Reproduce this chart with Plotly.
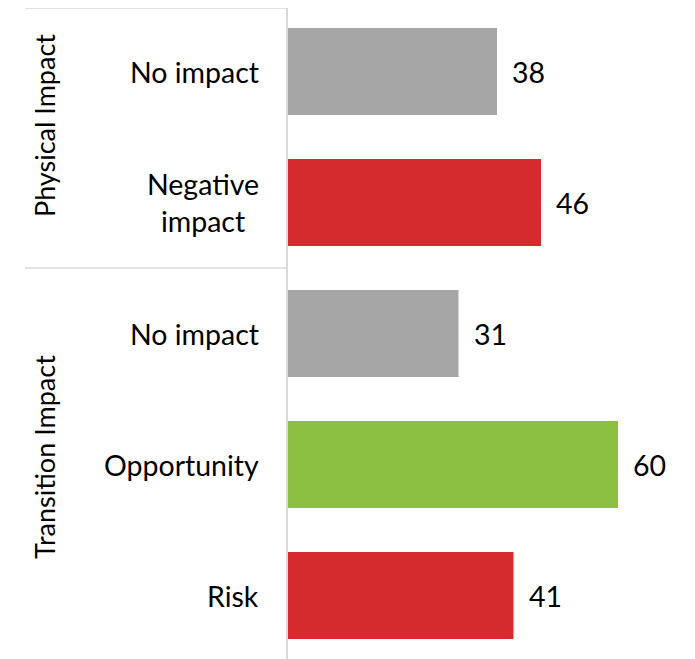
import plotly.graph_objects as go

categories = ["No impact", "Negative<br>impact", "No impact", "Opportunity", "Risk"]
values = [38, 46, 31, 60, 41]
colors = ["#A5A5A5", "#D52B2E", "#A5A5A5", "#8CC043", "#D52B2E"]
groups = ["Physical Impact", "Transition Impact"]
group_centers = [0.416, 2.943]
group_bounds = [1.5]

FONT = "Lato"
FS = 28.5
positions = list(range(len(values)))

fig = go.Figure()
fig.add_trace(go.Bar(
    x=values, y=positions, orientation="h",
    marker=dict(color=colors, line=dict(width=0)),
    width=0.665, hoverinfo="skip",
))

annotations = []
for p, c in zip(positions, categories):
    annotations.append(dict(x=0, xref="paper", y=p, yref="y", text=c, showarrow=False,
                            xanchor="right", yanchor="middle", align="center", xshift=-27,
                            font=dict(family=FONT, size=FS, color="#000000")))
for p, v in zip(positions, values):
    annotations.append(dict(x=v, xref="x", y=p, yref="y", text=str(v), showarrow=False,
                            xanchor="left", yanchor="middle", xshift=13,
                            font=dict(family=FONT, size=FS, color="#000000")))
for g, yc in zip(groups, group_centers):
    annotations.append(dict(x=-0.61, xref="paper", y=yc, yref="y", text=g, showarrow=False,
                            textangle=-90, xanchor="center", yanchor="middle",
                            font=dict(family=FONT, size=27, color="#000000")))

shapes = [dict(type="line", xref="paper", yref="paper", x0=-0.6575, x1=0, y0=1, y1=1,
               line=dict(color="#D9D9D9", width=1.5))]
for b in group_bounds:
    shapes.append(dict(type="line", xref="paper", yref="y", x0=-0.6575, x1=0, y0=b, y1=b,
                       line=dict(color="#D9D9D9", width=1.5)))

top = -0.5 + 2 / 131
fig.update_layout(
    width=695, height=659,
    margin=dict(l=280, r=15, t=0, b=0),
    paper_bgcolor="white", plot_bgcolor="white",
    showlegend=False,
    xaxis=dict(range=[0, 400 / 5.5], visible=False, fixedrange=True),
    yaxis=dict(range=[top + 659 / 131, top], showticklabels=False, showgrid=False, zeroline=False,
               showline=True, linecolor="#D9D9D9", linewidth=1.5, ticks="", fixedrange=True),
    annotations=annotations, shapes=shapes,
)

fig.write_html("out.html")
